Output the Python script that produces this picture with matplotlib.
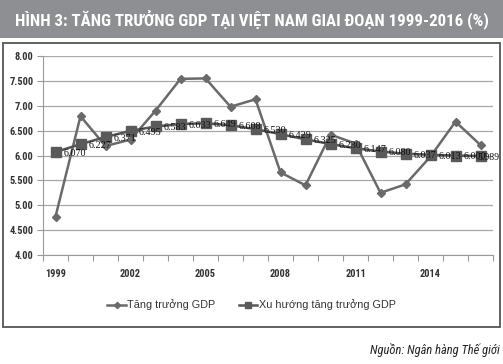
import matplotlib
matplotlib.use("Agg")
import matplotlib.pyplot as plt
from matplotlib import font_manager as fm
from matplotlib.patches import Rectangle

years = list(range(1999, 2017))
gdp = [4.77, 6.79, 6.19, 6.32, 6.90, 7.54, 7.55, 6.98, 7.13, 5.66, 5.40, 6.42, 6.24, 5.25, 5.42, 5.98, 6.68, 6.21]
trend = [6.070, 6.227, 6.371, 6.495, 6.583, 6.633, 6.649, 6.608, 6.530, 6.429, 6.325, 6.230, 6.147, 6.080, 6.037, 6.013, 6.000, 5.989]
trend_labels = ["6.070", "6.227", "6.371", "6.495", "6.583", "6.633", "6.649", "6.608", "6.530",
                "6.429", "6.325", "6.230", "6.147", "6.080", "6.037", "6.013", "6.000", "5.989"]
yticks = [4.0, 4.5, 5.0, 5.5, 6.0, 6.5, 7.0, 7.5, 8.0]
ytick_labels = ["4.00", "4.500", "5.00", "5.500", "6.00", "6.500", "7.00", "7.500", "8.00"]
xtick_years = [1999, 2002, 2005, 2008, 2011, 2014]
title = "HÌNH 3: TĂNG TRƯỞNG GDP TẠI VIỆT NAM GIAI ĐOẠN 1999-2016 (%)"
legend_labels = ["Tăng trưởng GDP", "Xu hướng tăng trưởng GDP"]
source = "Nguồn: Ngân hàng Thế giới"

names = {f.name for f in fm.fontManager.ttflist}
def pick(*cands):
    for c in cands:
        if c in names:
            return c
    return "DejaVu Sans"
narrow = pick("Liberation Sans Narrow", "DejaVu Sans Condensed", "Roboto Condensed", "Liberation Sans")
serif = pick("Liberation Serif", "DejaVu Serif")
sans = pick("Liberation Sans", "DejaVu Sans")

W, H = 503, 364
fig = plt.figure(figsize=(W/100, H/100), dpi=100)
fig.patch.set_facecolor("white")

# title bar
fig.patches.append(Rectangle((0, 1-38/H), 1, 38/H, transform=fig.transFigure,
                             facecolor="#8e8f92", edgecolor="none", zorder=0))
fig.text(0.5, 1-19/H, title, ha="center", va="center", color="white",
         fontsize=12.2, fontweight="bold", family=narrow)

# chart border
fig.patches.append(Rectangle((3/W, 1-327/H), 497/W, 284/H, transform=fig.transFigure,
                             facecolor="none", edgecolor="#555555", linewidth=1.3, zorder=0))

ax = fig.add_axes([43/W, 1-255/H, 450/W, 199/H])
x = list(range(len(years)))
ax.plot(x, gdp, color="#6a6a6a", lw=1.8, marker="D", ms=4.5, mfc="#6a6a6a", mec="#6a6a6a",
        label=legend_labels[0], zorder=3)
ax.plot(x, trend, color="#555555", lw=1.8, marker="s", ms=6.5, mfc="#5a5a5a", mec="#5a5a5a",
        label=legend_labels[1], zorder=4)
n = len(x)
for i, (xi, v, s) in enumerate(zip(x, trend, trend_labels)):
    if i == n - 1:
        ax.annotate(s, (xi, v), xytext=(13.5, -1), textcoords="offset points", ha="right", va="center",
                    fontsize=7.0, family=serif, color="#111111", zorder=5, annotation_clip=False)
    else:
        ax.annotate(s, (xi, v), xytext=(5.5, -1), textcoords="offset points", ha="left", va="center",
                    fontsize=7.3, family=serif, color="#111111", zorder=5, annotation_clip=False)

ax.set_xlim(-0.5, len(years)-0.5)
ax.set_ylim(4.0, 8.0)
ax.set_yticks(yticks)
ax.set_yticklabels(ytick_labels)
ax.set_xticks([years.index(y) for y in xtick_years])
ax.set_xticklabels([str(y) for y in xtick_years])
ax.set_xticks([i - 0.5 for i in range(len(years)+1)], minor=True)
ax.tick_params(axis="x", which="major", length=0, pad=10, labelsize=7.5, labelcolor="#333333")
ax.tick_params(axis="x", which="minor", length=4, width=0.8, color="#999999", direction="out")
ax.tick_params(axis="y", length=4, width=0.8, color="#999999", labelsize=7.5, labelcolor="#333333", pad=3)
for lab in ax.get_xticklabels() + ax.get_yticklabels():
    lab.set_fontweight("bold")
    lab.set_family(narrow)
ax.grid(axis="y", color="#a8a8a8", lw=0.9)
ax.set_axisbelow(True)
for sp in ["top", "right"]:
    ax.spines[sp].set_visible(False)
ax.spines["left"].set_color("#999999")
ax.spines["bottom"].set_color("#999999")
ax.patch.set_alpha(0)

handles, labels = ax.get_legend_handles_labels()
leg = fig.legend(handles, labels, loc="center", bbox_to_anchor=(0.5, 1-305/H), ncol=2, frameon=False,
                 prop={"family": sans, "size": 7.8}, handlelength=1.7, columnspacing=2.2,
                 handletextpad=0.1, labelcolor="#333333", markerscale=0.7)

fig.text(500/W, 1-350/H, source, ha="right", va="center", fontsize=9, style="italic",
         family=narrow, color="#222222")

fig.savefig("out.png", dpi=100, facecolor="white")
